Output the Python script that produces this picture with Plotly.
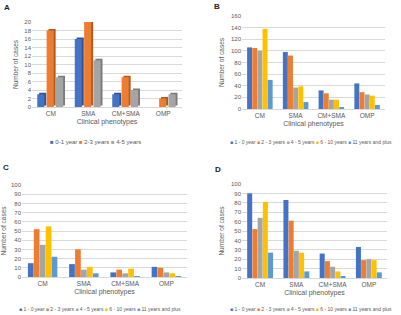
import plotly.graph_objects as go

categories = ["CM", "SMA", "CM+SMA", "OMP"]

a_labels = ["0-1 year", "2-3 years", "4-5 years"]
a_values = [
    [3, 16, 3, 0],
    [18, 20, 7, 2],
    [7, 11, 4, 3],
]

age_labels = ["1 - 0 year", "2 - 3 years", "4 - 5 years", "6 - 10 years", "11 years and plus"]
b_values = [
    [106, 98, 32, 44],
    [105, 92, 27, 29],
    [100, 37, 16, 25],
    [138, 39, 16, 23],
    [50, 12, 3, 7],
]
c_values = [
    [15, 14, 5, 11],
    [52, 30, 8, 10],
    [35, 8, 4, 5],
    [55, 11, 9, 4],
    [22, 4, 0.5, 1],
]
d_values = [
    [90, 83, 26, 33],
    [52, 61, 18, 19],
    [64, 29, 12, 20],
    [81, 27, 7, 19],
    [27, 7, 2, 6],
]

colors = ["#4472C4", "#ED7D31", "#A5A5A5", "#FFC000", "#5B9BD5"]
dark_colors = ["#2F528F", "#AE5A21", "#7B7B7B"]
W, H = 401, 315
FONT = "Liberation Sans, Arial, sans-serif"
TXT = "#595959"

fig = go.Figure()

def px_x(v):
    return v / W

def px_y(v):
    return 1 - v / H

panels = [
    # name, labels, values, x0,x1 (px), ytop, ybottom(px), yrange, dtick, legend x center, legend y, legend font
    ("A", a_labels, a_values, 32, 182, 22, 107, 20, 2, 95, 142, 6, 1),
    ("B", age_labels, b_values, 242, 385, 16, 109, 160, 20, 311, 142, 5, 2),
    ("C", age_labels, c_values, 22, 187, 185, 277, 100, 10, 100, 309, 5, 3),
    ("D", age_labels, d_values, 242, 387, 184, 278, 100, 10, 311, 309, 5, 4),
]

for name, labels, values, x0, x1, yt, yb, ymax, dtick, lx, ly, lf, k in panels:
    xa = "x" if k == 1 else f"x{k}"
    ya = "y" if k == 1 else f"y{k}"
    if name == "A":
        # pseudo-3D: darker depth bars behind the front faces
        bw, step, start, dx, dy = 0.19, 0.25, -0.36, 0.05, 0.35
        for i, (lab, vals) in enumerate(zip(labels, values)):
            fig.add_trace(go.Bar(
                x=categories, y=vals, base=dy, offset=start + i * step + dx, width=bw,
                marker=dict(color=dark_colors[i], line=dict(width=0)),
                xaxis=xa, yaxis=ya, showlegend=False, hoverinfo="skip",
            ))
        for i, (lab, vals) in enumerate(zip(labels, values)):
            fig.add_trace(go.Bar(
                x=categories, y=vals, name=lab, offset=start + i * step, width=bw,
                marker=dict(color=colors[i], line=dict(width=0)),
                xaxis=xa, yaxis=ya, showlegend=False,
            ))
    else:
        for i, (lab, vals) in enumerate(zip(labels, values)):
            fig.add_trace(go.Bar(
                x=categories, y=vals, name=lab,
                marker=dict(color=colors[i], line=dict(width=0)),
                xaxis=xa, yaxis=ya, showlegend=False,
            ))
    xkey = "xaxis" if k == 1 else f"xaxis{k}"
    ykey = "yaxis" if k == 1 else f"yaxis{k}"
    fig.layout[xkey] = dict(
        domain=[px_x(x0), px_x(x1)], anchor=ya,
        showgrid=False, showline=True, linecolor="#D9D9D9", linewidth=1,
        ticks="", ticklen=0, tickfont=dict(size=6.5, color=TXT, family=FONT),
        title=dict(text="Clinical phenotypes", font=dict(size=7, color=TXT, family=FONT), standoff=3),
        fixedrange=True, automargin=False,
    )
    fig.layout[ykey] = dict(
        domain=[px_y(yb), px_y(yt)], anchor=xa,
        range=[0, ymax], dtick=dtick, showgrid=True, gridcolor="#D9D9D9", gridwidth=1,
        zeroline=False, showline=False, ticks="",
        tickfont=dict(size=6, color=TXT, family=FONT),
        title=dict(text="Number of cases", font=dict(size=6.5, color=TXT, family=FONT), standoff=5),
        fixedrange=True, automargin=False,
    )
    parts = []
    for i, lab in enumerate(labels):
        parts.append(f"<span style='color:{colors[i]}'>■</span> {lab}")
    fig.add_annotation(text=" ".join(parts), x=px_x(lx), y=px_y(ly), xref="paper", yref="paper",
                       showarrow=False, xanchor="center", yanchor="middle",
                       font=dict(size=lf, color=TXT, family=FONT))

letters = [("A", 7, 7), ("B", 217, 6), ("C", 6, 167), ("D", 218, 169)]
for t, x, y in letters:
    fig.add_annotation(text=f"<b>{t}</b>", x=px_x(x), y=px_y(y), xref="paper", yref="paper",
                       showarrow=False, xanchor="center", yanchor="middle",
                       font=dict(size=8, color="#222222", family=FONT))

fig.update_layout(
    width=W, height=H, margin=dict(l=0, r=0, t=0, b=0, autoexpand=False),
    paper_bgcolor="white", plot_bgcolor="white", showlegend=False,
    barmode="group", bargap=0.28, bargroupgap=0.04,
    font=dict(family=FONT, color=TXT),
)

fig.write_html("out.html", config={"displayModeBar": False},
               post_script="document.body.style.margin='0';document.body.style.overflow='hidden';")
